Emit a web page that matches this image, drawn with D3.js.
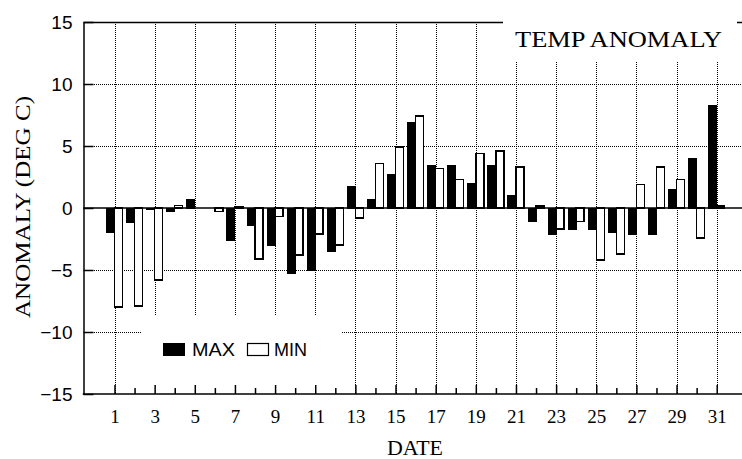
<!DOCTYPE html>
<html>
<head>
<meta charset="utf-8">
<script src="https://cdn.jsdelivr.net/npm/d3@7"></script>
<style>
	body { margin: 0; background: #fff; }
	svg { display: block; }
</style>
</head>
<body>
<svg id="chart" width="742" height="459"></svg>
<script>
'use strict';

var days = [1, 2, 3, 4, 5, 6, 7, 8, 9, 10, 11, 12, 13, 14, 15, 16,
	17, 18, 19, 20, 21, 22, 23, 24, 25, 26, 27, 28, 29, 30, 31];

var maxVals = [-2.0, -1.2, -0.15, -0.3, 0.7, 0, -2.6, -1.4, -3.0, -5.3, -5.0,
	-3.5, 1.7, 0.7, 2.7, 6.9, 3.4, 3.4, 2.0, 3.4, 1.0, -1.1, -2.1, -1.7, -1.7,
	-2.0, -2.1, -2.1, 1.5, 4.0, 8.3];

var minVals = [-8.0, -7.9, -5.8, 0.2, 0, -0.3, 0.1, -4.1, -0.7, -3.8, -2.1,
	-3.0, -0.8, 3.6, 4.9, 7.4, 3.2, 2.3, 4.4, 4.6, 3.3, 0.15, -1.7, -1.1, -4.2,
	-3.7, 1.9, 3.3, 2.3, -2.4, 0.15];

var yTicks  = [-15, -10, -5, 0, 5, 10, 15];
var yGrid   = [-10, -5, 5, 10];
var xLabels = [1, 3, 5, 7, 9, 11, 13, 15, 17, 19, 21, 23, 25, 27, 29, 31];

var plotL = 83.5;
var plotR = 742;
var plotT = 22;
var plotB = 394;
var barW  = 8;

var svg = d3.select('#chart');

var x = d3.scaleLinear().domain([1, 31]).range([114.5, 716.7]);
var y = d3.scaleLinear().domain([-15, 15]).range([plotB, plotT]);

var serif = '"Liberation Serif", "DejaVu Serif", serif';
var sans  = '"Liberation Sans", Arial, sans-serif';

// dotted grid
var grid = svg.append('g')
	.attr('stroke', '#000')
	.attr('stroke-width', 1)
	.attr('stroke-dasharray', '1,1')
	.attr('shape-rendering', 'crispEdges');

grid.selectAll('.vg').data(xLabels).enter().append('line')
	.attr('class', 'vg')
	.attr('x1', function (d) { return Math.round(x(d)) + 0.5; })
	.attr('x2', function (d) { return Math.round(x(d)) + 0.5; })
	.attr('y1', plotT)
	.attr('y2', plotB);

grid.selectAll('.hg').data(yGrid).enter().append('line')
	.attr('class', 'hg')
	.attr('x1', plotL)
	.attr('x2', plotR)
	.attr('y1', function (d) { return Math.round(y(d)) + 0.5; })
	.attr('y2', function (d) { return Math.round(y(d)) + 0.5; });

// frame
svg.append('line')
	.attr('x1', plotL).attr('x2', plotR)
	.attr('y1', plotT + 0.5).attr('y2', plotT + 0.5)
	.attr('stroke', '#000').attr('stroke-width', 1.5);

// bars
var bars = svg.append('g').attr('shape-rendering', 'crispEdges');

bars.selectAll('.max').data(days).enter().append('rect')
	.attr('class', 'max')
	.attr('x', function (d) { return x(d) - barW; })
	.attr('width', barW)
	.attr('y', function (d, i) { return y(Math.max(0, maxVals[i])); })
	.attr('height', function (d, i) { return Math.abs(y(maxVals[i]) - y(0)); })
	.attr('fill', '#000')
	.attr('stroke', '#000')
	.attr('stroke-width', 1);

bars.selectAll('.min').data(days).enter().append('rect')
	.attr('class', 'min')
	.attr('x', function (d) { return x(d); })
	.attr('width', barW)
	.attr('y', function (d, i) { return y(Math.max(0, minVals[i])); })
	.attr('height', function (d, i) { return Math.abs(y(minVals[i]) - y(0)); })
	.attr('fill', '#fff')
	.attr('stroke', '#000')
	.attr('stroke-width', 1.5);

// zero line
svg.append('line')
	.attr('x1', plotL).attr('x2', plotR)
	.attr('y1', y(0)).attr('y2', y(0))
	.attr('stroke', '#000').attr('stroke-width', 1.5);

// title box covers grid
svg.append('rect')
	.attr('x', 503).attr('y', 0)
	.attr('width', 234).attr('height', 62)
	.attr('fill', '#fff');

svg.append('text')
	.attr('x', 515).attr('y', 47)
	.attr('textLength', 207)
	.attr('lengthAdjust', 'spacingAndGlyphs')
	.style('font-family', serif)
	.style('font-size', '23px')
	.text('TEMP ANOMALY');

// legend box covers grid
svg.append('rect')
	.attr('x', 142).attr('y', 316)
	.attr('width', 199).attr('height', 77)
	.attr('fill', '#fff');

var legend = svg.append('g').attr('transform', 'translate(163,343)');

legend.append('rect')
	.attr('width', 22).attr('height', 13)
	.attr('fill', '#000');

legend.append('text')
	.attr('x', 29).attr('y', 13)
	.attr('textLength', 43)
	.attr('lengthAdjust', 'spacingAndGlyphs')
	.style('font-family', sans)
	.style('font-size', '18px')
	.text('MAX');

legend.append('rect')
	.attr('x', 84.5).attr('y', 0.5)
	.attr('width', 21).attr('height', 12)
	.attr('fill', '#fff')
	.attr('stroke', '#000')
	.attr('stroke-width', 1.2);

legend.append('text')
	.attr('x', 111).attr('y', 13)
	.attr('textLength', 33)
	.attr('lengthAdjust', 'spacingAndGlyphs')
	.style('font-family', sans)
	.style('font-size', '18px')
	.text('MIN');

// y axis
var yAxis = svg.append('g')
	.attr('transform', 'translate(' + plotL + ',0)')
	.call(d3.axisLeft(y).tickValues(yTicks).tickSize(-10).tickSizeOuter(0).tickPadding(11));

yAxis.select('.domain').attr('stroke-width', 1.5);
yAxis.selectAll('.tick line').attr('stroke-width', 1.5);
yAxis.selectAll('.tick text')
	.style('font-family', sans)
	.style('font-size', '19px')
	.attr('fill', '#000');

// x axis
var xAxis = svg.append('g')
	.attr('transform', 'translate(0,' + plotB + ')')
	.call(d3.axisBottom(x).tickValues(days).tickSize(-9).tickPadding(16)
		.tickFormat(function (d) { return d % 2 ? d : ''; }));

xAxis.select('.domain').remove();
xAxis.selectAll('.tick line')
	.attr('stroke-width', 1.5)
	.attr('y2', function (d) { return d % 2 ? -9 : -6; });
xAxis.selectAll('.tick text')
	.style('font-family', serif)
	.style('font-size', '19px')
	.attr('fill', '#000');

svg.append('line')
	.attr('x1', plotL - 0.75).attr('x2', plotR)
	.attr('y1', plotB).attr('y2', plotB)
	.attr('stroke', '#000').attr('stroke-width', 1.5);

// axis titles
svg.append('text')
	.attr('x', 387).attr('y', 455)
	.attr('textLength', 56)
	.attr('lengthAdjust', 'spacingAndGlyphs')
	.style('font-family', serif)
	.style('font-size', '21px')
	.text('DATE');

svg.append('text')
	.attr('transform', 'translate(30,207) rotate(-90)')
	.attr('text-anchor', 'middle')
	.attr('textLength', 222)
	.attr('lengthAdjust', 'spacingAndGlyphs')
	.style('font-family', serif)
	.style('font-size', '21px')
	.text('ANOMALY (DEG C)');
</script>
</body>
</html>
